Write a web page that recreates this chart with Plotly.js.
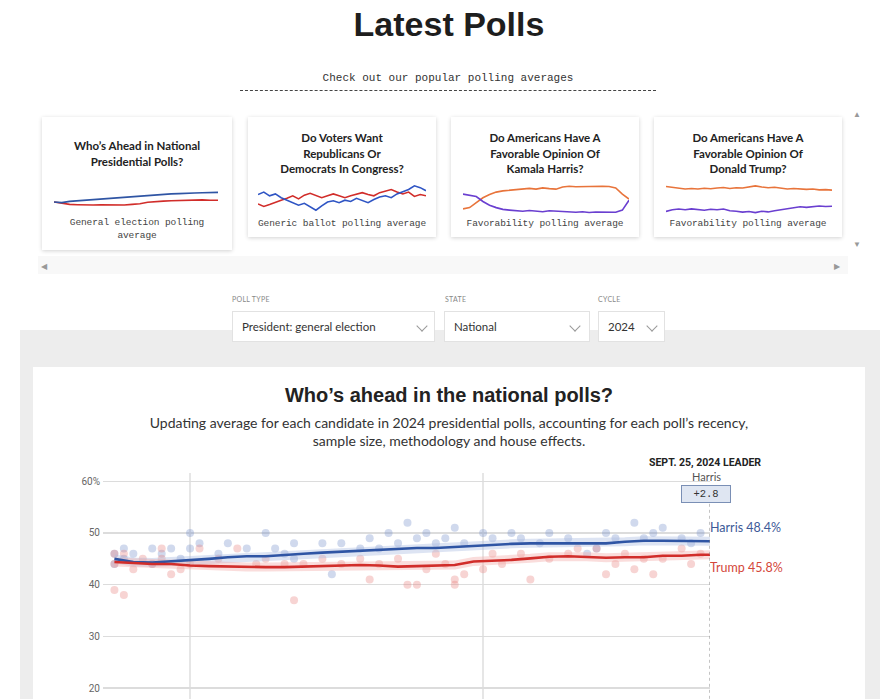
<!DOCTYPE html>
<html>
<head>
<meta charset="utf-8">
<script src="https://cdn.plot.ly/plotly-3.0.1.min.js"></script>
<style>
  html, body { margin:0; padding:0; background:#fff; width:880px; height:699px; overflow:hidden; }
  body { position:relative; font-family:Lato, "Liberation Sans", sans-serif; color:#222; }
  .abs { position:absolute; }
  #pageTitle { left:0; width:898px; top:4px; text-align:center; font-family:"Liberation Sans", Arial, sans-serif; font-weight:bold; font-size:34px; color:#1e1e1e; line-height:40px; }
  #checkOut { left:240px; width:416px; top:70px; text-align:center; font-family:"Liberation Mono", monospace; font-size:11px; color:#333; line-height:16px; padding-bottom:4px; border-bottom:1px dashed #444; }
  .card { position:absolute; background:#fff; box-shadow:0 1px 4px rgba(0,0,0,0.18); }
  .ctitle { position:absolute; left:0; right:0; text-align:center; font-weight:bold; font-size:11.5px; line-height:15.5px; color:#222; }
  .cfoot { position:absolute; left:0; right:0; text-align:center; font-family:"Liberation Mono", monospace; font-size:9.5px; line-height:13px; color:#444; letter-spacing:-0.1px; }
  .spark { position:absolute; }
  .arrow { position:absolute; color:#999; font-size:8px; line-height:8px; }
  .ddlabel { position:absolute; font-size:7px; color:#888; letter-spacing:0.3px; top:295px; }
  .dd { position:absolute; top:311px; height:31px; background:#fff; border:1px solid #e2e2e2; box-sizing:border-box; font-size:11.5px; color:#333; line-height:30px; padding-left:9px; }
  .chev { position:absolute; top:10px; width:7px; height:7px; border-right:1.5px solid #999; border-bottom:1.5px solid #999; transform:rotate(45deg); }
  #grayband { left:20px; top:330px; width:860px; height:369px; background:#ededed; }
  #whitecard { left:33px; top:367px; width:832px; height:332px; background:#fff; }
  #chartTitle { left:33px; width:832px; top:383px; text-align:center; font-family:"Liberation Sans Narrow", "Liberation Sans", sans-serif; font-weight:bold; font-size:20px; color:#222; line-height:24px; }
  #chartSub { left:136px; width:626px; top:414px; text-align:center; font-size:14px; color:#333; line-height:18px; }
</style>
</head>
<body>
<div id="pageTitle" class="abs">Latest Polls</div>
<div id="checkOut" class="abs">Check out our popular polling averages</div>

<div class="abs" style="left:38px;top:256px;width:810px;height:18px;background:#f8f8f8;"></div>
<div class="arrow" style="left:853px;top:110px;">▲</div>
<div class="arrow" style="left:853px;top:240px;">▼</div>
<div class="arrow" style="left:41px;top:262px;">◀</div>
<div class="arrow" style="left:834px;top:262px;">▶</div>

<div class="card" style="left:42px;top:117px;width:190px;height:133px;">
  <div class="ctitle" style="top:21px;">Who’s Ahead in National<br>Presidential Polls?</div>
  <div class="cfoot" style="top:99px;">General election polling<br>average</div>
</div>
<div id="spark1" class="spark" style="left:54px;top:190px;width:164px;height:18px;"></div>

<div class="card" style="left:248px;top:117px;width:188px;height:120px;">
  <div class="ctitle" style="top:13px;">Do Voters Want<br>Republicans Or<br>Democrats In Congress?</div>
  <div class="cfoot" style="top:100px;">Generic ballot polling average</div>
</div>
<div id="spark2" class="spark" style="left:258px;top:182px;width:168px;height:32px;"></div>

<div class="card" style="left:451px;top:117px;width:188px;height:120px;">
  <div class="ctitle" style="top:13px;">Do Americans Have A<br>Favorable Opinion Of<br>Kamala Harris?</div>
  <div class="cfoot" style="top:100px;">Favorability polling average</div>
</div>
<div id="spark3" class="spark" style="left:463px;top:183px;width:166px;height:32px;"></div>

<div class="card" style="left:654px;top:117px;width:188px;height:120px;">
  <div class="ctitle" style="top:13px;">Do Americans Have A<br>Favorable Opinion Of<br>Donald Trump?</div>
  <div class="cfoot" style="top:100px;">Favorability polling average</div>
</div>
<div id="spark4" class="spark" style="left:666px;top:183px;width:166px;height:32px;"></div>

<div id="grayband" class="abs"></div>
<div class="ddlabel" style="left:232px;">POLL TYPE</div>
<div class="ddlabel" style="left:445px;">STATE</div>
<div class="ddlabel" style="left:598px;">CYCLE</div>
<div class="dd" style="left:232px;width:203px;">President: general election<div class="chev" style="left:185px;"></div></div>
<div class="dd" style="left:444px;width:146px;">National<div class="chev" style="left:126px;"></div></div>
<div class="dd" style="left:598px;width:67px;">2024<div class="chev" style="left:49px;"></div></div>

<div id="whitecard" class="abs"></div>
<div id="chartTitle" class="abs">Who’s ahead in the national polls?</div>
<div id="chartSub" class="abs">Updating average for each candidate in 2024 presidential polls, accounting for each poll’s recency, sample size, methodology and house effects.</div>
<div id="mainChart" class="abs" style="left:33px;top:440px;width:832px;height:280px;"></div>

<script>
// ---------- Main chart data ----------
const avgDates = ['2024-07-24','2024-07-26','2024-07-28','2024-07-30','2024-08-01','2024-08-03','2024-08-05','2024-08-07','2024-08-09','2024-08-11','2024-08-13','2024-08-15','2024-08-17','2024-08-19','2024-08-21','2024-08-23','2024-08-25','2024-08-27','2024-08-29','2024-08-31','2024-09-02','2024-09-04','2024-09-06','2024-09-08','2024-09-10','2024-09-12','2024-09-14','2024-09-16','2024-09-18','2024-09-20','2024-09-22','2024-09-24','2024-09-25'];
const harrisAvg = [45.0,44.4,44.3,44.5,44.7,45.0,45.3,45.5,45.5,45.8,46.0,46.2,46.4,46.6,46.8,47.0,47.1,47.1,47.3,47.6,47.7,47.9,48.0,48.0,48.1,48.1,48.0,48.3,48.5,48.5,48.5,48.4,48.4];
const trumpAvg  = [44.4,44.2,44.0,44.0,43.7,43.6,43.5,43.4,43.4,43.4,43.5,43.5,43.6,43.8,43.7,43.5,43.6,43.7,43.8,44.5,44.6,44.8,45.1,45.4,45.5,45.4,45.2,45.3,45.3,45.6,45.6,45.8,45.8];

const harrisPollDates = ['2024-07-24','2024-07-24','2024-07-25','2024-07-25','2024-07-26','2024-07-28','2024-07-28','2024-07-29','2024-07-30','2024-07-31','2024-08-01','2024-08-01','2024-08-02','2024-08-04','2024-08-05','2024-08-07','2024-08-09','2024-08-10','2024-08-11','2024-08-12','2024-08-12','2024-08-15','2024-08-16','2024-08-17','2024-08-19','2024-08-20','2024-08-21','2024-08-22','2024-08-23','2024-08-24','2024-08-25','2024-08-26','2024-08-27','2024-08-28','2024-08-29','2024-08-30','2024-09-01','2024-09-02','2024-09-04','2024-09-05','2024-09-07','2024-09-08','2024-09-10','2024-09-12','2024-09-13','2024-09-14','2024-09-15','2024-09-17','2024-09-18','2024-09-19','2024-09-20','2024-09-22','2024-09-23','2024-09-24'];
const harrisPollValues = [46,44,47,45,46,44,47,46,47,45,50,47,48,46,48,47,50,47,46,45,48,48,42,48,47,49,47,50,48,52,49,50,48,49,51,48,50,49,50,49,48,50,49,46,47,50,49,52,49,50,51,49,48,50];

const trumpPollDates = ['2024-07-24','2024-07-24','2024-07-24','2024-07-25','2024-07-25','2024-07-26','2024-07-27','2024-07-28','2024-07-29','2024-07-29','2024-07-30','2024-07-31','2024-08-01','2024-08-02','2024-08-04','2024-08-06','2024-08-08','2024-08-09','2024-08-11','2024-08-12','2024-08-13','2024-08-15','2024-08-17','2024-08-19','2024-08-20','2024-08-21','2024-08-23','2024-08-24','2024-08-25','2024-08-26','2024-08-27','2024-08-28','2024-08-29','2024-08-29','2024-08-30','2024-09-01','2024-09-02','2024-09-03','2024-09-05','2024-09-06','2024-09-08','2024-09-10','2024-09-11','2024-09-13','2024-09-14','2024-09-15','2024-09-16','2024-09-17','2024-09-18','2024-09-19','2024-09-20','2024-09-22','2024-09-23','2024-09-24'];
const trumpPollValues = [46,44,39,38,46,43,45,44,47,45,42,43,44,47,45,47,44,45,44,37,44,45,44,45,41,44,45,40,40,43,46,44,41,40,42,43,46,44,46,41,45,46,47,47,42,44,46,43,45,42,45,47,44,46];

const yTickVals = [20,30,40,50,60];
const yTickText = ['20','30','40','50','60%'];
const xTickVals = ['2024-08-01','2024-09-01'];
const xTickText = ['Aug. 1','Sept. 1'];

const leaderDate = '2024-09-25';
const leaderHeading = 'SEPT. 25, 2024 LEADER';
const leaderName = 'Harris';
const leaderMargin = '+2.8';
const harrisLabel = 'Harris 48.4%';
const trumpLabel = 'Trump 45.8%';

// ---------- Sparkline data ----------
const spark1Harris = [45.2,45.0,45.4,45.6,45.8,46.0,46.1,46.3,46.6,46.8,47.0,47.3,47.5,47.6,47.8,47.9,48.0,48.0,48.2,48.3,48.4,48.4];
const spark1Trump  = [45.2,44.8,44.4,44.3,44.2,44.2,44.3,44.2,44.3,44.2,44.4,44.6,45.1,45.4,45.5,45.6,45.7,45.8,45.8,45.9,45.8,45.8];
const spark2Dem = [45.5,45.9,45.3,45.6,45.0,44.6,44.2,43.8,44.1,43.5,43.0,43.7,44.3,44.5,44.2,44.6,44.4,44.9,44.5,44.2,44.7,45.1,45.3,45.0,45.6,45.9,46.3,46.9,46.6,46.1];
const spark2Rep = [44.0,43.6,43.9,44.3,44.6,44.9,45.3,44.8,45.4,45.7,45.3,45.0,45.3,45.6,45.3,45.0,45.3,45.5,45.8,45.5,45.3,45.8,46.1,46.3,45.9,45.6,45.9,45.2,45.5,45.3];
const spark3Fav   = [51.0,50.5,50.0,48.0,46.5,45.5,44.8,44.5,44.2,44.0,44.3,44.0,43.8,44.2,44.0,43.8,43.9,43.6,43.8,43.5,43.7,43.6,43.5,43.6,44.5,48.5];
const spark3Unfav = [45.0,45.5,47.5,49.5,50.8,51.8,52.3,52.6,52.9,53.1,53.3,53.0,53.5,53.2,53.0,53.9,54.2,54.0,54.1,53.9,54.0,54.2,54.1,53.5,51.0,49.0];
const spark4Fav   = [43.5,44.2,44.5,44.2,44.6,44.3,44.0,44.4,44.2,44.5,43.8,43.6,43.2,43.5,43.0,43.6,43.3,43.8,44.2,44.8,45.0,45.5,45.2,45.4,45.8,45.6,45.7];
const spark4Unfav = [54.0,53.6,53.2,53.0,53.2,53.0,53.3,53.1,53.4,53.6,53.2,53.5,53.4,54.0,54.3,53.8,53.5,53.7,53.3,53.0,53.2,53.0,52.8,53.0,52.6,52.7,52.5];

// ---------- Main chart ----------
const BLUE = '#2f55a4', RED = '#d12d2a';
const traces = [
  {x: harrisPollDates, y: harrisPollValues, type:'scatter', mode:'markers', marker:{color:'#6f8cc9', size:8, opacity:0.33}, hoverinfo:'skip'},
  {x: trumpPollDates, y: trumpPollValues, type:'scatter', mode:'markers', marker:{color:'#e77b78', size:8, opacity:0.33}, hoverinfo:'skip'},
  {x: avgDates, y: harrisAvg, type:'scatter', mode:'lines', line:{color:'#a9bbe2', width:9}, opacity:0.4, hoverinfo:'skip'},
  {x: avgDates, y: trumpAvg, type:'scatter', mode:'lines', line:{color:'#f2a9a7', width:9}, opacity:0.4, hoverinfo:'skip'},
  {x: avgDates, y: harrisAvg, type:'scatter', mode:'lines', line:{color:BLUE, width:2.6}, hoverinfo:'skip'},
  {x: avgDates, y: trumpAvg, type:'scatter', mode:'lines', line:{color:RED, width:2.6}, hoverinfo:'skip'}
];
const layout = {
  width:832, height:280,
  margin:{l:70, r:155, t:33, b:6},
  paper_bgcolor:'rgba(0,0,0,0)', plot_bgcolor:'rgba(0,0,0,0)',
  showlegend:false,
  xaxis:{type:'date', range:['2024-07-22 19:00','2024-09-25 00:00'], tickvals:xTickVals, ticktext:xTickText,
         showgrid:true, gridcolor:'#e6e6e6', gridwidth:1.5, zeroline:false, showline:false, ticks:'', showticklabels:false, fixedrange:true},
  yaxis:{range:[15,61.6], tickvals:yTickVals, ticktext:yTickText, showgrid:true, gridcolor:'#dcdcdc', gridwidth:1.5,
         zeroline:false, showline:false, ticks:'', ticklabelstandoff:2,
         tickfont:{family:'Roboto, sans-serif', size:10, color:'#666'}, fixedrange:true},
  shapes:[
    {type:'line', xref:'x', yref:'y', x0:leaderDate, x1:leaderDate, y0:56.8, y1:10, line:{color:'#888', width:1, dash:'dot'}}
  ],
  annotations:[
    {x:leaderDate, y:1, xref:'x', yref:'paper', text:'<b>'+leaderHeading+'</b>', showarrow:false, xanchor:'center', yanchor:'middle', xshift:-5, yshift:11,
     font:{family:'Roboto, sans-serif', size:10.5, color:'#222'}},
    {x:leaderDate, y:60.9, xref:'x', yref:'y', text:leaderName, showarrow:false, xanchor:'center', yanchor:'middle', xshift:-4,
     font:{family:'Lato, sans-serif', size:11, color:'#555'}},
    {x:leaderDate, y:57.6, xref:'x', yref:'y', text:leaderMargin, showarrow:false, xanchor:'center', yanchor:'middle', xshift:-4,
     font:{family:'Liberation Mono, monospace', size:10.5, color:'#333'}, bgcolor:'#dfe6f2', bordercolor:'#7a8fb5', borderwidth:1, borderpad:2, width:44},
    {x:leaderDate, y:51.0, xref:'x', yref:'y', text:harrisLabel, showarrow:false, xanchor:'left', yanchor:'middle', xshift:-2,
     font:{family:'Lato, sans-serif', size:12.5, color:'#3d5a98'}},
    {x:leaderDate, y:43.4, xref:'x', yref:'y', text:trumpLabel, showarrow:false, xanchor:'left', yanchor:'middle', xshift:-2,
     font:{family:'Lato, sans-serif', size:12.5, color:'#d4473b'}}
  ]
};
Plotly.newPlot('mainChart', traces, layout, {staticPlot:true, displayModeBar:false});

// ---------- Sparklines ----------
function idx(n){ const a=[]; for(let i=0;i<n;i++) a.push(i); return a; }
function spark(id, series, colors, yr, w, h){
  const tr = series.map((s,i)=>({x:idx(s.length), y:s, type:'scatter', mode:'lines', line:{color:colors[i], width:1.6}, hoverinfo:'skip'}));
  Plotly.newPlot(id, tr, {
    width:w, height:h, margin:{l:0,r:0,t:0,b:0}, showlegend:false,
    paper_bgcolor:'rgba(0,0,0,0)', plot_bgcolor:'rgba(0,0,0,0)',
    xaxis:{visible:false, fixedrange:true}, yaxis:{visible:false, range:yr, fixedrange:true}
  }, {staticPlot:true, displayModeBar:false});
}
spark('spark1', [spark1Trump, spark1Harris], [RED, BLUE], [43.2,49.2], 164, 18);
spark('spark2', [spark2Rep, spark2Dem], [RED, '#2f55c4'], [42.4,47.5], 168, 32);
spark('spark3', [spark3Unfav, spark3Fav], ['#e8743b', '#6a3fd0'], [42.5,55.5], 166, 32);
spark('spark4', [spark4Unfav, spark4Fav], ['#e8743b', '#6a3fd0'], [42.0,55.5], 166, 32);
</script>
</body>
</html>
